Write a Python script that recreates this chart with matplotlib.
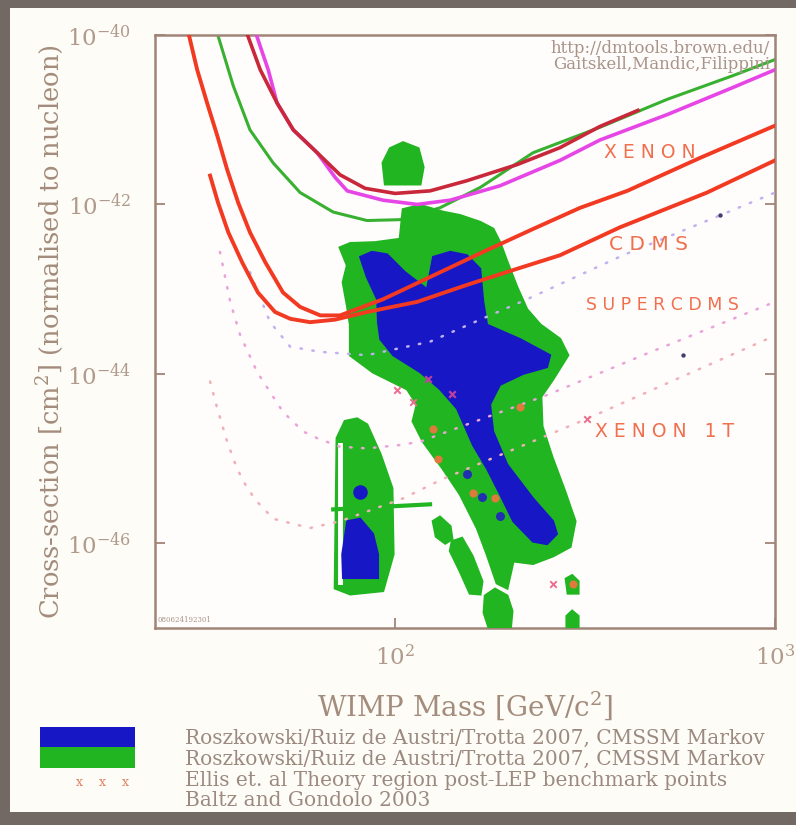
import numpy as np
import matplotlib.pyplot as plt
from matplotlib.patches import Rectangle

plt.rcParams['font.family'] = ['DejaVu Serif']
plt.rcParams['mathtext.fontset'] = 'dejavuserif'

# everything as log10(mass / GeV) and log10(sigma / cm^2)
x_range = [1.368, 3.0]
y_range = [-47.0, -40.0]
x_ticks = [2, 3]
y_ticks = [-46, -44, -42, -40]

cdms_lgm = [1.453, 1.479, 1.505, 1.532, 1.558, 1.587, 1.618, 1.658, 1.705, 1.75, 1.803,
            1.855, 1.968, 2.1, 2.232, 2.363, 2.487, 2.611, 2.803, 3.0]
cdms_lgs = [-39.92, -40.41, -40.8, -41.19, -41.59, -41.98, -42.33, -42.68, -43.04, -43.21, -43.31,
            -43.31, -43.12, -42.84, -42.56, -42.29, -42.04, -41.84, -41.45, -41.07]
scdms_lgm = [1.513, 1.534, 1.561, 1.597, 1.639, 1.684, 1.724, 1.776, 1.842, 1.926, 2.058,
             2.189, 2.321, 2.434, 2.592, 2.821, 3.0]
scdms_lgs = [-41.66, -41.98, -42.33, -42.68, -43.04, -43.27, -43.35, -43.39, -43.36, -43.27, -43.15,
             -42.95, -42.76, -42.6, -42.27, -41.86, -41.48]
xenon_lgm = [1.605, 1.645, 1.689, 1.732, 1.795, 1.855, 1.921, 2.0, 2.092, 2.189, 2.321,
             2.434, 2.539, 2.639]
xenon_lgs = [-39.92, -40.41, -40.8, -41.12, -41.39, -41.65, -41.81, -41.87, -41.84, -41.72, -41.53,
             -41.33, -41.08, -40.89]
magenta_lgm = [1.629, 1.650, 1.666, 1.689, 1.732, 1.795, 1.842, 1.874, 1.968, 2.058, 2.145,
               2.276, 2.434, 2.539, 2.716, 2.889, 3.0]
magenta_lgs = [-39.92, -40.2, -40.41, -40.8, -41.12, -41.39, -41.68, -41.84, -41.95, -42.0, -41.95,
               -41.78, -41.48, -41.24, -40.94, -40.62, -40.41]
green_lgm = [1.526, 1.534, 1.574, 1.618, 1.679, 1.75, 1.837, 1.926, 2.013, 2.118, 2.224,
             2.363, 2.539, 2.716, 2.889, 3.0]
green_lgs = [-39.92, -40.01, -40.6, -41.12, -41.51, -41.86, -42.09, -42.19, -42.18, -42.04, -41.8,
             -41.39, -41.09, -40.76, -40.48, -40.29]

# projected sensitivities (dotted)
proj1_lgm = [1.618, 1.671, 1.724, 1.803, 1.926, 2.092, 2.224, 2.347, 2.6, 2.855, 3.0]
proj1_lgs = [-42.8, -43.39, -43.68, -43.74, -43.78, -43.62, -43.36, -43.12, -42.6, -42.13, -41.86]
proj2_lgm = [1.539, 1.566, 1.592, 1.637, 1.705, 1.758, 1.795, 1.855, 1.926, 2.013, 2.066,
             2.4, 2.663, 3.0]
proj2_lgs = [-42.56, -43.15, -43.54, -43.98, -44.45, -44.68, -44.76, -44.86, -44.88, -44.84, -44.8,
             -44.25, -43.76, -43.15]
proj3_lgm = [1.513, 1.532, 1.558, 1.584, 1.611, 1.637, 1.679, 1.776, 1.855, 2.021, 2.126,
             2.505, 2.979, 3.0]
proj3_lgs = [-44.09, -44.41, -44.8, -45.12, -45.35, -45.51, -45.71, -45.82, -45.74, -45.47, -45.24,
             -44.53, -43.59, -43.54]

# CMSSM regions
cmssm95_lgm = [1.855, 1.882, 1.947, 2.013, 2.021, 2.066, 2.126, 2.171, 2.224, 2.258, 2.276,
               2.295, 2.321, 2.347, 2.382, 2.434, 2.455, 2.416, 2.384, 2.387, 2.413, 2.447,
               2.474, 2.461, 2.416, 2.363, 2.311, 2.295, 2.268, 2.242, 2.216, 2.171, 2.126,
               2.074, 2.047, 2.058, 2.032, 1.942, 1.882, 1.882, 1.874, 1.863, 1.874]
cmssm95_lgs = [-42.51, -42.46, -42.45, -42.41, -42.06, -42.01, -42.09, -42.13, -42.21, -42.29, -42.45,
               -42.68, -42.98, -43.24, -43.42, -43.59, -43.78, -44.06, -44.27, -44.62, -44.98, -45.39,
               -45.74, -46.04, -46.15, -46.24, -46.21, -46.53, -46.47, -46.13, -45.82, -45.42, -45.12,
               -44.8, -44.56, -44.36, -44.18, -43.98, -43.78, -43.42, -43.19, -42.92, -42.72]
cap95_lgm = [1.974, 1.968, 1.987, 2.021, 2.061, 2.074, 2.066]
cap95_lgs = [-41.76, -41.51, -41.34, -41.27, -41.34, -41.56, -41.76]
lobe95_lgm = [[2.1, 2.118, 2.145, 2.15, 2.132, 2.108],
              [2.15, 2.176, 2.203, 2.229, 2.224, 2.197, 2.171, 2.145],
              [2.237, 2.263, 2.295, 2.308, 2.303, 2.25, 2.234],
              [2.45, 2.466, 2.482, 2.482, 2.455],
              [2.452, 2.466, 2.482, 2.482, 2.452]]
lobe95_lgs = [[-45.74, -45.69, -45.8, -45.95, -46.0, -45.92],
              [-45.98, -45.94, -46.15, -46.45, -46.6, -46.59, -46.33, -46.09],
              [-46.62, -46.54, -46.62, -46.8, -47.04, -47.04, -46.82],
              [-46.42, -46.38, -46.45, -46.59, -46.59],
              [-46.86, -46.8, -46.86, -47.04, -47.04]]
low95_lgm = [1.9, 1.868, 1.847, 1.842, 1.882, 1.968, 1.995, 1.992, 1.961, 1.926]
low95_lgs = [-44.53, -44.56, -44.76, -46.53, -46.6, -46.56, -46.13, -45.35, -44.95, -44.6]
strip_lgm = [1.848, 1.866]
strip_lgs = [-44.8, -46.5]
bar_lgm = [1.837, 2.092]
bar_lgs = [-45.6, -45.54]

cmssm68_lgm = [1.908, 1.939, 1.979, 2.026, 2.084, 2.1, 2.145, 2.189, 2.224, 2.232, 2.242,
               2.329, 2.408, 2.4, 2.337, 2.276, 2.25, 2.258, 2.295, 2.363, 2.416, 2.426,
               2.4, 2.363, 2.311, 2.276, 2.242, 2.205, 2.163, 2.118, 2.066, 1.995, 1.961,
               1.955, 1.953, 1.926]
cmssm68_lgs = [-42.62, -42.56, -42.59, -42.8, -43.0, -42.62, -42.56, -42.6, -42.76, -43.15, -43.42,
               -43.59, -43.78, -43.92, -44.0, -44.13, -44.36, -44.68, -45.07, -45.47, -45.74, -45.89,
               -46.01, -45.98, -45.74, -45.42, -45.12, -44.84, -44.41, -44.18, -43.98, -43.78, -43.59,
               -43.39, -43.12, -42.86]
low68_lgm = [1.874, 1.908, 1.942, 1.955, 1.955, 1.863, 1.861]
low68_lgs = [-45.74, -45.71, -45.89, -46.13, -46.41, -46.41, -46.13]
spot68_lgm = [1.908]
spot68_lgs = [-45.39]

# benchmark points
ellis_lgm = [2.005, 2.047, 2.505, 2.416]
ellis_lgs = [-44.19, -44.33, -44.53, -46.48]
ellis2_lgm = [2.087, 2.15]
ellis2_lgs = [-44.06, -44.24]
orange_lgm = [2.1, 2.113, 2.205, 2.263, 2.329, 2.468]
orange_lgs = [-44.65, -45.0, -45.41, -45.47, -44.39, -46.48]
baltz_lgm = [2.189, 2.229, 2.276]
baltz_lgs = [-45.18, -45.45, -45.68]
dark_lgm = [2.855, 2.758]
dark_lgs = [-42.13, -43.78]

legend_lines = [
    "Roszkowski/Ruiz de Austri/Trotta 2007, CMSSM Markov",
    "Roszkowski/Ruiz de Austri/Trotta 2007, CMSSM Markov",
    "Ellis et. al Theory region post-LEP benchmark points",
    "Baltz and Gondolo 2003",
]


def p(v):
    return 10 ** np.asarray(v, dtype=float)


W, H = 796, 825
fig = plt.figure(figsize=(W / 100, H / 100), dpi=100, facecolor='#fdfcf7')
ax = fig.add_axes([155 / W, (H - 628) / H, 620 / W, 593 / H], facecolor='#fffcfc')
ax.set_xscale('log')
ax.set_yscale('log')

blue = '#1717c6'
green = '#22b522'
red = '#f23a22'

# limit curves below the regions
ax.plot(p(green_lgm), p(green_lgs), color='#38b030', lw=2.2, zorder=2, solid_joinstyle='round')

ax.fill(p(cmssm95_lgm), p(cmssm95_lgs), color=green, lw=2, zorder=3)
ax.fill(p(cap95_lgm), p(cap95_lgs), color=green, lw=2, zorder=3)
for lm, ls in zip(lobe95_lgm, lobe95_lgs):
    ax.fill(p(lm), p(ls), color=green, lw=2, zorder=3)
ax.fill(p(low95_lgm), p(low95_lgs), color=green, lw=2, zorder=3)
ax.fill(p([strip_lgm[0], strip_lgm[1], strip_lgm[1], strip_lgm[0]]),
        p([strip_lgs[0], strip_lgs[0], strip_lgs[1], strip_lgs[1]]),
        facecolor='white', edgecolor=green, lw=1.5, zorder=3.2)
ax.plot(p(bar_lgm), p(bar_lgs), color=green, lw=3, zorder=3.3)
ax.fill(p(cmssm68_lgm), p(cmssm68_lgs), color=blue, lw=1.5, zorder=3.5)
ax.fill(p(low68_lgm), p(low68_lgs), color=blue, lw=1.5, zorder=3.5)
ax.scatter(p(spot68_lgm), p(spot68_lgs), s=110, color=blue, zorder=3.5, lw=0)

dot = (0, (0.6, 4.2))
ax.plot(p(proj1_lgm), p(proj1_lgs), color='#c0b2ee', lw=1.8, ls=dot, dash_capstyle='round', zorder=4)
ax.plot(p(proj2_lgm), p(proj2_lgs), color='#eba2d8', lw=1.8, ls=dot, dash_capstyle='round', zorder=4)
ax.plot(p(proj3_lgm), p(proj3_lgs), color='#efb0b6', lw=1.8, ls=dot, dash_capstyle='round', zorder=4)

ax.plot(p(magenta_lgm), p(magenta_lgs), color='#e646e6', lw=2.6, zorder=5, solid_joinstyle='round')
ax.plot(p(xenon_lgm), p(xenon_lgs), color='#c8283a', lw=2.6, zorder=5.1, solid_joinstyle='round')
ax.plot(p(cdms_lgm), p(cdms_lgs), color=red, lw=2.8, zorder=5.2, solid_joinstyle='round')
ax.plot(p(scdms_lgm), p(scdms_lgs), color=red, lw=2.8, zorder=5.2, solid_joinstyle='round')

ax.scatter(p(ellis_lgm), p(ellis_lgs), marker='x', s=22, color='#ec6e8c', lw=1.4, zorder=6)
ax.scatter(p(ellis2_lgm), p(ellis2_lgs), marker='x', s=22, color='#c040a0', lw=1.6, zorder=6)
ax.scatter(p(orange_lgm), p(orange_lgs), marker='o', s=34, color='#e07a3c', lw=0, zorder=6)
ax.scatter(p(baltz_lgm), p(baltz_lgs), marker='o', s=42, color='#2030b0', lw=0, zorder=6)
ax.scatter(p(dark_lgm), p(dark_lgs), marker='o', s=10, color='#404070', lw=0, zorder=6)

lab = dict(color='#f0704e', family='DejaVu Sans', ha='center', va='center', zorder=7)
ax.text(p(2.671), p(-41.39), "X E N O N", fontsize=13.5, **lab)
ax.text(p(2.666), p(-42.47), "C D M S", fontsize=14.5, **lab)
ax.text(p(2.705), p(-43.19), "S U P E R C D M S", fontsize=12.5, **lab)
ax.text(p(2.708), p(-44.68), "X E N O N   1 T", fontsize=13.5, **lab)

ax.text(0.992, 0.978, "http://dmtools.brown.edu/", transform=ax.transAxes, ha='right', va='center',
        fontsize=12, color='#a89488', zorder=7)
ax.text(0.992, 0.951, "Gaitskell,Mandic,Filippini", transform=ax.transAxes, ha='right', va='center',
        fontsize=12, color='#a89488', zorder=7)
ax.text(0.004, 0.014, "080624192301", transform=ax.transAxes, ha='left', va='center',
        fontsize=5, color='#a89488', zorder=7)

ax.set_xlim(p(x_range[0]), p(x_range[1]))
ax.set_ylim(p(y_range[0]), p(y_range[1]))
ax.set_xticks(p(x_ticks))
ax.set_xticklabels([rf'$10^{{{t}}}$' for t in x_ticks])
ax.set_yticks(p(y_ticks))
ax.set_yticklabels([rf'$10^{{{t}}}$' for t in y_ticks])
ax.minorticks_off()
ax.tick_params(direction='in', length=7, width=1.3, color='#a08478', right=True,
               labelsize=16.5, labelcolor='#b09a8c')
ax.tick_params(axis='y', pad=17)
ax.tick_params(axis='x', pad=12)
for s in ax.spines.values():
    s.set_color('#a08478')
    s.set_linewidth(1.8)

fig.text(50 / W, (H - 332) / H, r"Cross-section [cm$^2$] (normalised to nucleon)", rotation=90,
         ha='center', va='center', fontsize=18.5, color='#a48c7c')
fig.text(465 / W, (H - 706) / H, r"WIMP Mass [GeV/c$^2$]", ha='center', va='center',
         fontsize=20, color='#a48c7c')

# legend
fig.add_artist(Rectangle((40 / W, (H - 747) / H), 95 / W, 20 / H, transform=fig.transFigure,
                         color=blue, lw=0))
fig.add_artist(Rectangle((40 / W, (H - 768) / H), 95 / W, 21 / H, transform=fig.transFigure,
                         color=green, lw=0))
fig.text(102 / W, (H - 783) / H, "x    x    x", ha='center', va='center', fontsize=9, color='#e08060')
for i, line in enumerate(legend_lines):
    fig.text(185 / W, (H - 738 - 21 * i) / H, line, ha='left', va='center', fontsize=14.5,
             color='#9c8a80')

# screenshot frame
frame = '#726965'
fig.add_artist(Rectangle((0, 0), 10 / W, 1, transform=fig.transFigure, color=frame, lw=0))
fig.add_artist(Rectangle((0, 1 - 8 / H), 1, 8 / H, transform=fig.transFigure, color=frame, lw=0))
fig.add_artist(Rectangle((0, 0), 1, 13 / H, transform=fig.transFigure, color=frame, lw=0))

fig.savefig('out.png', dpi=100, facecolor=fig.get_facecolor())
